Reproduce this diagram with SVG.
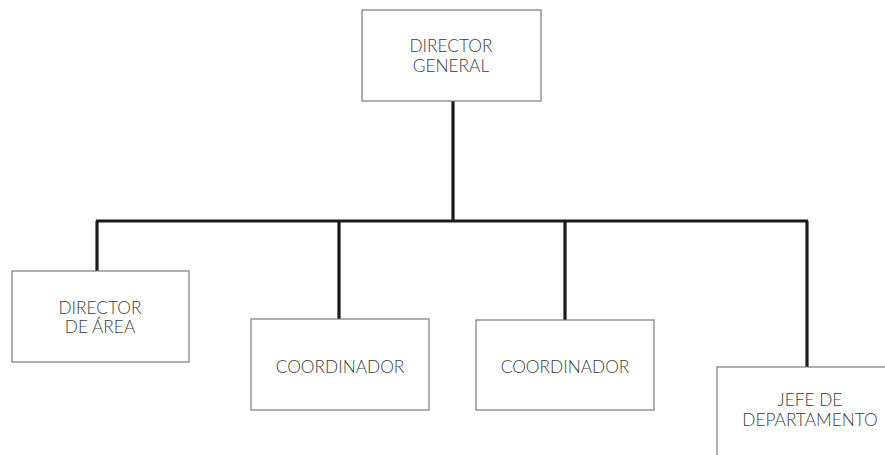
<svg xmlns="http://www.w3.org/2000/svg" width="885" height="455" viewBox="0 0 885 455">
<style>
.box{fill:#fff;stroke:#7a7a7a;stroke-width:1.2}
.t{font-family:Lato,"Noto Sans",sans-serif;font-weight:300;font-size:17.3px;fill:#3c3c3c;text-anchor:middle}
.c{fill:none;stroke:#1a1a1a;stroke-width:3.2}
</style>
<rect width="885" height="455" fill="#fff"/>
<g id="connectors">
<path class="c" d="M453 101V221"/>
<path class="c" d="M96 221H808"/>
<path class="c" d="M97 221V271"/>
<path class="c" d="M339 221V319"/>
<path class="c" d="M565 221V320"/>
<path class="c" d="M807 221V367"/>
</g>
<g id="director-general">
<rect class="box" x="362" y="10" width="179" height="91"/>
<text class="t" x="451" y="52">DIRECTOR</text>
<text class="t" x="451" y="72">GENERAL</text>
</g>
<g id="director-area">
<rect class="box" x="12" y="271" width="177" height="91"/>
<text class="t" x="100" y="314">DIRECTOR</text>
<text class="t" x="100" y="333">DE ÁREA</text>
</g>
<g id="coordinador-1">
<rect class="box" x="251" y="319" width="178" height="91"/>
<text class="t" x="340" y="373">COORDINADOR</text>
</g>
<g id="coordinador-2">
<rect class="box" x="476" y="320" width="178" height="90"/>
<text class="t" x="565" y="373">COORDINADOR</text>
</g>
<g id="jefe-departamento">
<rect class="box" x="717" y="367" width="180" height="100"/>
<text class="t" x="810" y="406">JEFE DE</text>
<text class="t" x="810" y="426">DEPARTAMENTO</text>
</g>
</svg>
